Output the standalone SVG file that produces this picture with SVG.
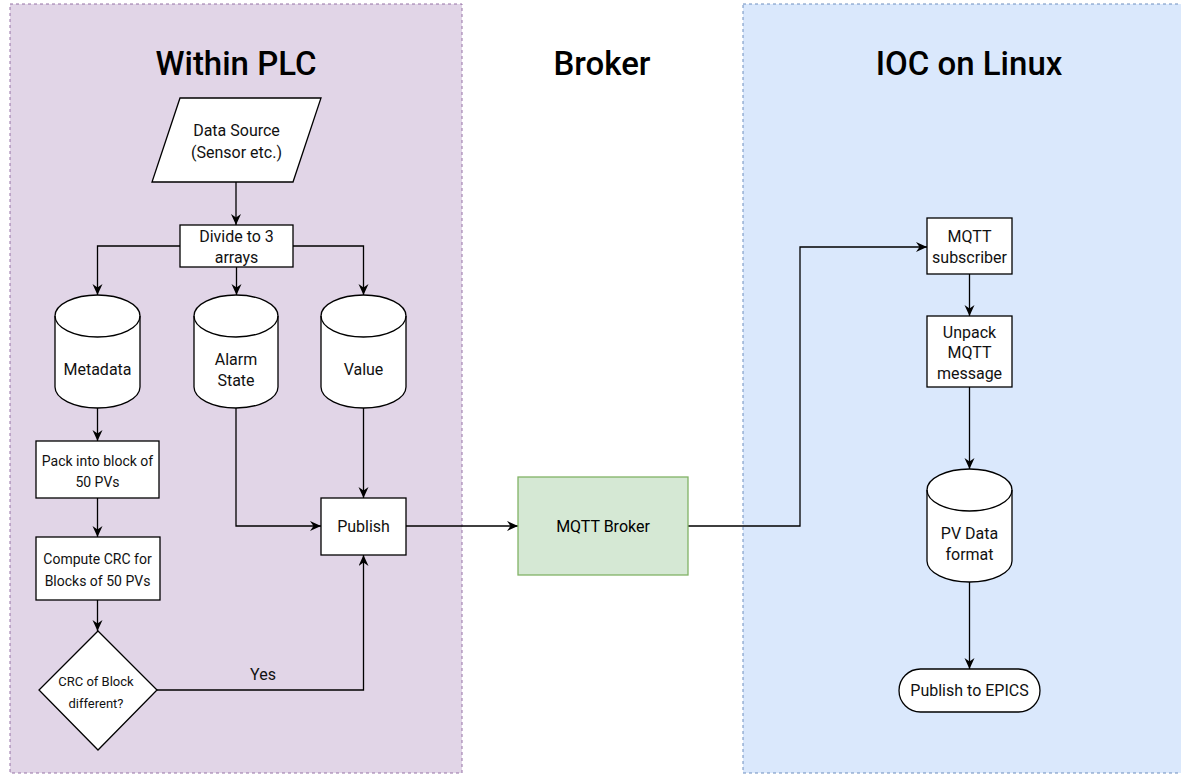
<svg xmlns="http://www.w3.org/2000/svg" width="1181" height="774" viewBox="0 0 1181 774">
<defs>
<marker id="arr" markerWidth="12" markerHeight="11" refX="11" refY="5" orient="auto" markerUnits="userSpaceOnUse">
<path d="M0,0 L11,5 L0,10 L3.5,5 Z" fill="#000"/>
</marker>
<style>
text{font-family:Roboto,"Liberation Sans",sans-serif;fill:#000;text-anchor:middle;dominant-baseline:central}
.title{font-size:33px;font-weight:500}
.t16{font-size:16px;fill:#111}
.t14{font-size:14px;fill:#111}
.t13{font-size:13px;fill:#111}
.shape{fill:#fff;stroke:#000;stroke-width:1.3}
.edge{fill:none;stroke:#000;stroke-width:1.3;marker-end:url(#arr)}
.line{fill:none;stroke:#000;stroke-width:1.3}
</style>
</defs>
<rect width="1181" height="774" fill="#fff"/>
<g id="panel-plc">
<rect x="10" y="4" width="452" height="769" fill="#e1d5e7" stroke="#9673a6" stroke-dasharray="3,3"/>
<text class="title" x="236" y="63">Within PLC</text>
</g>
<g id="panel-broker">
<text class="title" x="602" y="63">Broker</text>
</g>
<g id="panel-ioc">
<rect x="743" y="4" width="445" height="769" fill="#dae8fc" stroke="#6c8ebf" stroke-dasharray="3,3"/>
<text class="title" x="969" y="63">IOC on Linux</text>
</g>
<g id="connectors">
<path class="edge" d="M236,182 V225"/>
<path class="edge" d="M180,246 H97.5 V295"/>
<path class="edge" d="M236.5,267 V295"/>
<path class="edge" d="M293,246 H363.5 V295"/>
<path class="edge" d="M97.5,408 V441"/>
<path class="edge" d="M97.5,498 V537"/>
<path class="edge" d="M97.5,600 V631"/>
<path class="edge" d="M157,690 H363.5 V555"/>
<text class="t16" x="263" y="674">Yes</text>
<path class="edge" d="M236,408 V526 H321"/>
<path class="edge" d="M363.5,408 V498"/>
<path class="edge" d="M406,526 H518"/>
<path class="edge" d="M688,526 H800 V247 H927"/>
<path class="edge" d="M969.5,274 V316"/>
<path class="edge" d="M969.5,387 V469"/>
<path class="edge" d="M969.5,582 V669"/>
</g>
<g id="data-source">
<path class="shape" d="M180,98 H321 L293,182 H152 Z"/>
<text class="t16" x="236.5" y="130">Data Source</text>
<text class="t16" x="236.5" y="152">(Sensor etc.)</text>
</g>
<g id="divide">
<rect class="shape" x="180" y="225" width="113" height="42"/>
<text class="t16" x="236.5" y="236">Divide to 3</text>
<text class="t16" x="236.5" y="257">arrays</text>
</g>
<g id="metadata">
<path class="shape" d="M55,316 A42.5,21 0 0 1 140,316 V387 A42.5,21 0 0 1 55,387 Z"/>
<path class="line" d="M55,316 A42.5,21 0 0 0 140,316"/>
<text class="t16" x="97.5" y="369">Metadata</text>
</g>
<g id="alarm-state">
<path class="shape" d="M194,316 A42,21 0 0 1 278,316 V387 A42,21 0 0 1 194,387 Z"/>
<path class="line" d="M194,316 A42,21 0 0 0 278,316"/>
<text class="t16" x="236" y="359">Alarm</text>
<text class="t16" x="236" y="380">State</text>
</g>
<g id="value">
<path class="shape" d="M321,316 A42.5,21 0 0 1 406,316 V387 A42.5,21 0 0 1 321,387 Z"/>
<path class="line" d="M321,316 A42.5,21 0 0 0 406,316"/>
<text class="t16" x="363.5" y="369">Value</text>
</g>
<g id="pack">
<rect class="shape" x="36" y="441" width="123" height="57"/>
<text class="t14" x="97.5" y="461">Pack into block of</text>
<text class="t14" x="97.5" y="482">50 PVs</text>
</g>
<g id="compute-crc">
<rect class="shape" x="36" y="537" width="124" height="63"/>
<text class="t14" x="97.5" y="559">Compute CRC for</text>
<text class="t14" x="97.5" y="581">Blocks of 50 PVs</text>
</g>
<g id="crc-diamond">
<path class="shape" d="M98,631 L157,690 L98,750 L39,690 Z"/>
<text class="t13" x="96" y="681">CRC of Block</text>
<text class="t13" x="96" y="703">different?</text>
</g>
<g id="publish">
<rect class="shape" x="321" y="498" width="85" height="57"/>
<text class="t16" x="363.5" y="526">Publish</text>
</g>
<g id="mqtt-broker">
<rect x="518" y="477" width="170" height="98" fill="#d5e8d4" stroke="#82b366" stroke-width="1.3"/>
<text class="t16" x="603" y="526" style="fill:#000">MQTT Broker</text>
</g>
<g id="mqtt-subscriber">
<rect class="shape" x="927" y="218" width="85" height="56"/>
<text class="t16" x="969.5" y="236">MQTT</text>
<text class="t16" x="969.5" y="257">subscriber</text>
</g>
<g id="unpack">
<rect class="shape" x="927" y="316" width="85" height="71"/>
<text class="t16" x="969.5" y="332">Unpack</text>
<text class="t16" x="969.5" y="352">MQTT</text>
<text class="t16" x="969.5" y="373">message</text>
</g>
<g id="pv-data">
<path class="shape" d="M927,490 A42.5,21 0 0 1 1012,490 V561 A42.5,21 0 0 1 927,561 Z"/>
<path class="line" d="M927,490 A42.5,21 0 0 0 1012,490"/>
<text class="t16" x="969.5" y="533">PV Data</text>
<text class="t16" x="969.5" y="554">format</text>
</g>
<g id="publish-epics">
<rect class="shape" x="899" y="669" width="141" height="43" rx="21.5"/>
<text class="t16" x="969.5" y="690.5">Publish to EPICS</text>
</g>
</svg>
